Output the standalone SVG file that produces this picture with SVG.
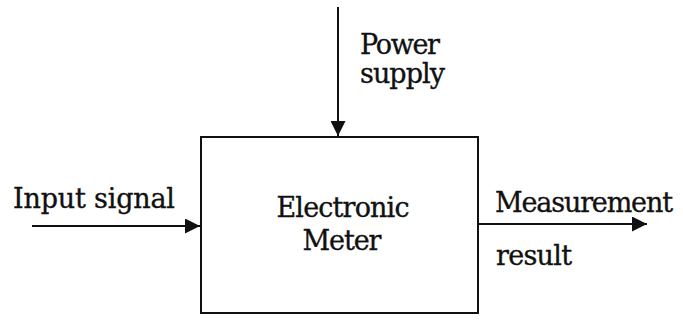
<svg xmlns="http://www.w3.org/2000/svg" width="683" height="321" viewBox="0 0 683 321">
<style>
.t{font-family:"DejaVu Serif","Liberation Serif",serif;font-size:27px;fill:#111;stroke:#111;stroke-width:0.35}
.l{stroke:#111;stroke-width:2;fill:none}
</style>
<defs>
<marker id="ah" markerWidth="15" markerHeight="15" refX="15" refY="7.5" orient="auto" markerUnits="userSpaceOnUse">
<path d="M0,0 L15,7.5 L0,15 Z" fill="#111"/>
</marker>
</defs>
<rect width="683" height="321" fill="#fff"/>
<g id="meter">
<rect x="201" y="137" width="277" height="176" class="l"/>
<text class="t" x="343" y="217" text-anchor="middle" textLength="133">Electronic</text>
<text class="t" x="342" y="250" text-anchor="middle" textLength="79">Meter</text>
</g>
<g id="connectors">
<line x1="338" y1="7" x2="338" y2="136" class="l" marker-end="url(#ah)"/>
<line x1="32" y1="226" x2="200" y2="226" class="l" marker-end="url(#ah)"/>
<line x1="478" y1="224" x2="647" y2="224" class="l" marker-end="url(#ah)"/>
</g>
<g id="labels">
<text class="t" x="360" y="54" textLength="80">Power</text>
<text class="t" x="360" y="83" textLength="85">supply</text>
<text class="t" x="13" y="208" textLength="162">Input signal</text>
<text class="t" x="495" y="212" textLength="178">Measurement</text>
<text class="t" x="496" y="265" textLength="76">result</text>
</g>
</svg>
